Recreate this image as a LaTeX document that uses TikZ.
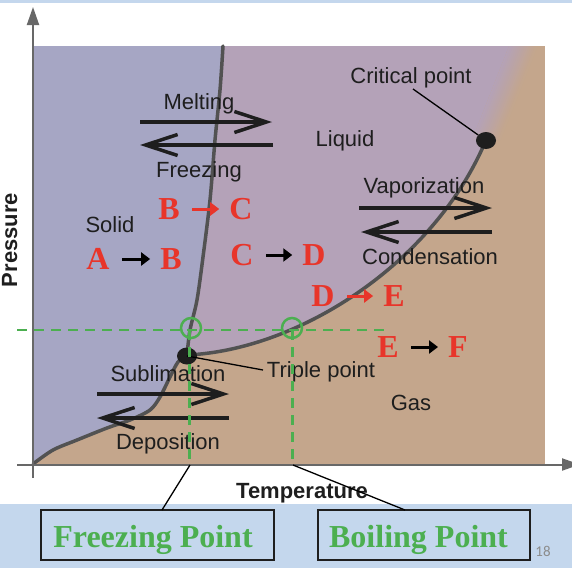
\documentclass[tikz,border=0pt]{standalone}
\usepackage{fontspec}
\setmainfont{Liberation Sans}
\newfontfamily\serifb{Liberation Serif}
\newfontfamily\numfont{Carlito}
\usetikzlibrary{arrows.meta,shapes.geometric}
\definecolor{solidc}{HTML}{A6A6C4}
\definecolor{liqc}{HTML}{B4A2B8}
\definecolor{gasc}{HTML}{C4A68C}
\definecolor{bandc}{HTML}{C4D7ED}
\definecolor{curvec}{HTML}{525252}
\definecolor{axisc}{HTML}{686868}
\definecolor{greenc}{RGB}{76,175,80}
\definecolor{redc}{HTML}{E8352A}
\definecolor{txtc}{HTML}{1E1E1E}
\definecolor{pgc}{HTML}{8C8C8C}
\begin{document}
\begin{tikzpicture}[x=1pt,y=-1pt,
  lab/.style={font=\fontsize{22}{26}\selectfont, text=txtc, anchor=base, inner sep=0pt},
  blab/.style={font=\bfseries\fontsize{22}{26}\selectfont, text=txtc, anchor=base, inner sep=0pt},
  letter/.style={font=\serifb\bfseries\fontsize{32}{36}\selectfont, text=redc, inner sep=0pt},
  sarrow/.style={line width=3pt, shorten <=12pt, shorten >=10pt, -{Triangle[length=9pt,width=13pt]}},
  barb/.style={line width=3.5pt, draw=txtc, -{Straight Barb[length=32pt,width=21pt]}},
  curve/.style={draw=curvec, line width=3.5pt, line cap=round},
  axisline/.style={draw=axisc, line width=2pt, -{Triangle[length=18pt,width=12pt]}},
  dot/.style={ellipse, fill=txtc, minimum width=20pt, minimum height=17pt, inner sep=0pt},
  gdash/.style={draw=greenc, line width=2.5pt, dash pattern=on 10pt off 7pt},
  gcirc/.style={circle, draw=greenc, line width=2.5pt, minimum size=20pt, inner sep=0pt},
  thinl/.style={draw=black, line width=1.3pt},
  boxst/.style={draw=txtc, line width=1.5pt, inner sep=0pt},
  gtext/.style={font=\serifb\bfseries\fontsize{32}{36}\selectfont, text=greenc, anchor=base, inner sep=0pt}
]
\useasboundingbox (0,0) rectangle (572,568);
% bands
\fill[bandc] (0,0) rectangle (572,3);
\fill[bandc] (0,504) rectangle (572,568);
% regions
\fill[gasc] (33,46) rectangle (545,464);
\fill[solidc] (33,46) -- (223,46)
  -- plot[smooth] coordinates {(223,46) (220,90) (215,140) (210,200) (203,257) (197,300) (190,330) (187,355)}
  -- plot[smooth] coordinates {(187,355) (178,362) (170,377) (160,397) (150,410) (130,420) (107,428) (77,440) (53,450) (33,464)}
  -- cycle;
\fill[liqc] (223,46)
  -- plot[smooth] coordinates {(223,46) (220,90) (215,140) (210,200) (203,257) (197,300) (190,330) (187,355)}
  .. controls (300,350) and (435,262) .. (486,140)
  -- (472,140) -- (509,46) -- cycle;
\foreach \i in {0,...,13}{
  \pgfmathtruncatemacro\p{96-7*\i}
  \fill[liqc!\p!gasc] ({472+2*\i},140) -- ({474.6+2*\i},140) -- ({511.6+2*\i},46) -- ({509+2*\i},46) -- cycle;
}
% curves
\draw[curve] plot[smooth] coordinates {(223,46) (220,90) (215,140) (210,200) (203,257) (197,300) (190,330) (187,355)};
\draw[curve] (187,355) .. controls (300,350) and (435,262) .. (486,140);
\draw[curve] plot[smooth] coordinates {(187,355) (178,362) (170,377) (160,397) (150,410) (130,420) (107,428) (77,440) (53,450) (33,464)};
% axes
\draw[axisline] (33,478) -- (33,7);
\draw[axisline] (17,464.5) -- (580,464.5);
% process arrows
\draw[barb] (140,122) -- (272,122);
\draw[barb] (273,145) -- (140,145);
\draw[barb] (359,208) -- (492,208);
\draw[barb] (492,232) -- (361,232);
\draw[barb] (97,394) -- (229,394);
\draw[barb] (229,418) -- (97,418);
% labels
\node[lab] (melt) at (199,109) {Melting};
\node[lab] (freez) at (199,177) {Freezing};
\node[lab] (cpl) at (411,83) {Critical point};
\node[lab] (liq) at (345,146) {Liquid};
\node[lab] (vap) at (424,193) {Vaporization};
\node[lab] (cond) at (430,264) {Condensation};
\node[lab] (sol) at (110,232) {Solid};
\node[lab] (subl) at (168,381) {Sublimation};
\node[lab] (depo) at (168,449) {Deposition};
\node[lab] (gas) at (411,410) {Gas};
\node[lab] (tpl) at (321,377) {Triple point};
\node[blab, rotate=90] (pres) at (17,240) {Pressure};
\node[blab] (temp) at (302,498) {Temperature};
% points
\node[dot] (cp) at (486,140.5) {};
\node[dot] (tp) at (187,356) {};
\coordinate (cpa) at (413,89);
\coordinate (tpa) at (263,370);
\draw[thinl] (cpa) -- (cp);
\draw[thinl] (tp.center) -- (tpa);
% red letters
\node[letter] (A1) at (98,259) {A};
\node[letter] (B1) at (171,259) {B};
\node[letter] (B2) at (169,209) {B};
\node[letter] (C2) at (241,209) {C};
\node[letter] (C3) at (242,255) {C};
\node[letter] (D3) at (314,255) {D};
\node[letter] (D4) at (323,296) {D};
\node[letter] (E4) at (394,296) {E};
\node[letter] (E5) at (388,347) {E};
\node[letter] (F5) at (458,347) {F};
\draw[sarrow, draw=black, fill=black] (A1) -- (B1);
\draw[sarrow, draw=redc, fill=redc] (B2) -- (C2);
\draw[sarrow, draw=black, fill=black] (C3) -- (D3);
\draw[sarrow, draw=redc, fill=redc] (D4) -- (E4);
\draw[sarrow, draw=black, fill=black] (E5) -- (F5);
% green guides
\coordinate (gh0) at (17,330);
\coordinate (gh1) at (388,330);
\coordinate (gv1) at (189.5,464);
\coordinate (gv2) at (292.5,464);
\coordinate (gt1) at (189.5,330);
\coordinate (gt2) at (292.5,330);
\draw[gdash] (gh0) -- (gh1);
\draw[gdash] (gt1) -- (gv1);
\draw[gdash] (gt2) -- (gv2);
\node[gcirc] (fpc) at (191,328) {};
\node[gcirc] (bpc) at (292,328) {};
% boxes
\node[boxst, minimum width=233pt, minimum height=50pt] (fpbox) at (157.5,535) {};
\node[boxst, minimum width=212pt, minimum height=50pt] (bpbox) at (424,535) {};
\node[gtext] (fpt) at (153,547) {Freezing Point};
\node[gtext] (bpt) at (418.5,547) {Boiling Point};
\coordinate (fza) at (190,465);
\coordinate (fzb) at (162,510);
\coordinate (bpa) at (293,465);
\coordinate (bpb) at (405,510);
\draw[thinl] (fza) -- (fzb);
\draw[thinl] (bpa) -- (bpb);
\node[font=\numfont\fontsize{15}{18}\selectfont, text=pgc, anchor=base, inner sep=0pt] (pg) at (543,556) {18};
\end{tikzpicture}
\end{document}
